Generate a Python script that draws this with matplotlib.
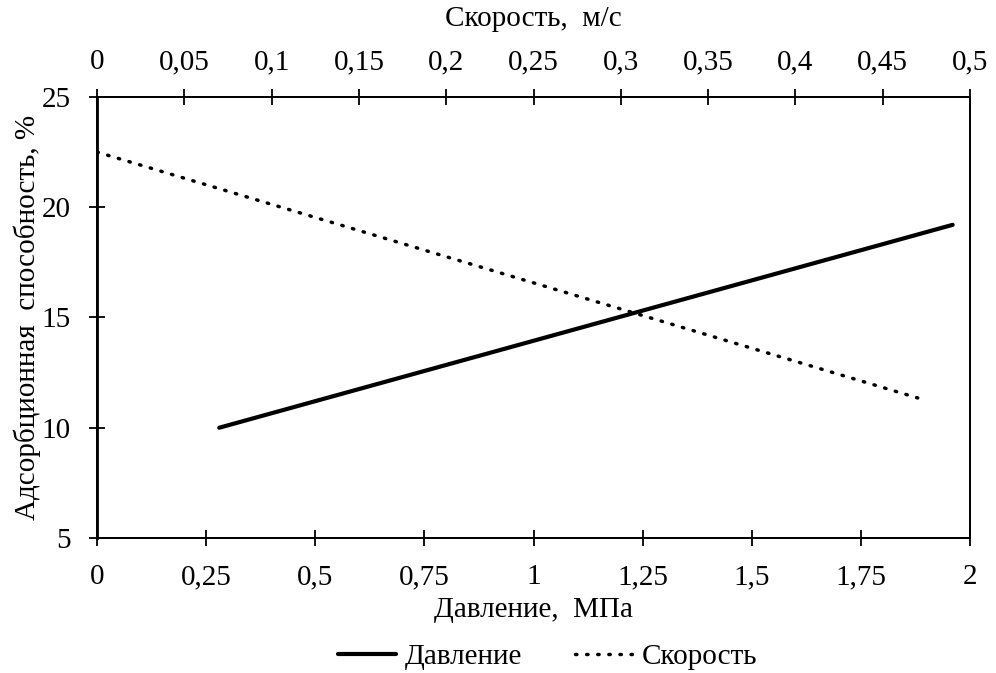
import matplotlib
matplotlib.use("Agg")
import matplotlib.pyplot as plt
from matplotlib.ticker import FuncFormatter

plt.rcParams['font.family'] = ['Liberation Serif', 'DejaVu Serif']
plt.rcParams['font.size'] = 21

# DATA
pressure_x = [0.28, 1.96]      # МПа
pressure_y = [10.0, 19.2]      # %
speed_x = [0.0, 0.47]          # м/с
speed_y = [22.5, 11.35]        # %

bottom_ticks = [0, 0.25, 0.5, 0.75, 1, 1.25, 1.5, 1.75, 2]
top_ticks = [0, 0.05, 0.1, 0.15, 0.2, 0.25, 0.3, 0.35, 0.4, 0.45, 0.5]
y_ticks = [5, 10, 15, 20, 25]


def comma(v, pos=None):
    s = f"{v:.2f}".rstrip('0').rstrip('.')
    return s.replace('.', ',')


fig = plt.figure(figsize=(9.96, 6.73), dpi=100)
ax = fig.add_axes([0.0974, 0.2006, 0.8766, 0.6554])
ax2 = ax.twiny()

l1, = ax.plot(pressure_x, pressure_y, color='black', lw=3, solid_capstyle='round',
              label='Давление')
l2, = ax2.plot(speed_x, speed_y, color='black', lw=2.5, linestyle=(0, (0.4, 2.8)),
               dash_capstyle='round', label='Скорость')

ax.set_xlim(0, 2)
ax.set_ylim(5, 25)
ax2.set_xlim(0, 0.5)
ax.set_xticks(bottom_ticks)
ax.set_yticks(y_ticks)
ax2.set_xticks(top_ticks)
ax.xaxis.set_major_formatter(FuncFormatter(comma))
ax2.xaxis.set_major_formatter(FuncFormatter(comma))

for a in (ax, ax2):
    a.tick_params(direction='inout', length=12, width=1.3)
    for s in a.spines.values():
        s.set_linewidth(1.3)
ax.spines['left'].set_linewidth(2)
ax.tick_params(axis='x', pad=13)
ax.tick_params(axis='y', pad=13)
ax2.tick_params(axis='x', pad=9.5)

ax.set_xlabel('Давление,  МПа', labelpad=5)
ax2.set_xlabel('Скорость,  м/с', labelpad=17)
ax.set_ylabel('Адсорбционная  способность, %', labelpad=0)

fig.legend(handles=[l1, l2], loc='center', bbox_to_anchor=(0.55, 0.024),
           ncol=2, frameon=False, handlelength=2.0, handletextpad=0.3,
           columnspacing=1.8)

fig.savefig('out.png', dpi=100)
